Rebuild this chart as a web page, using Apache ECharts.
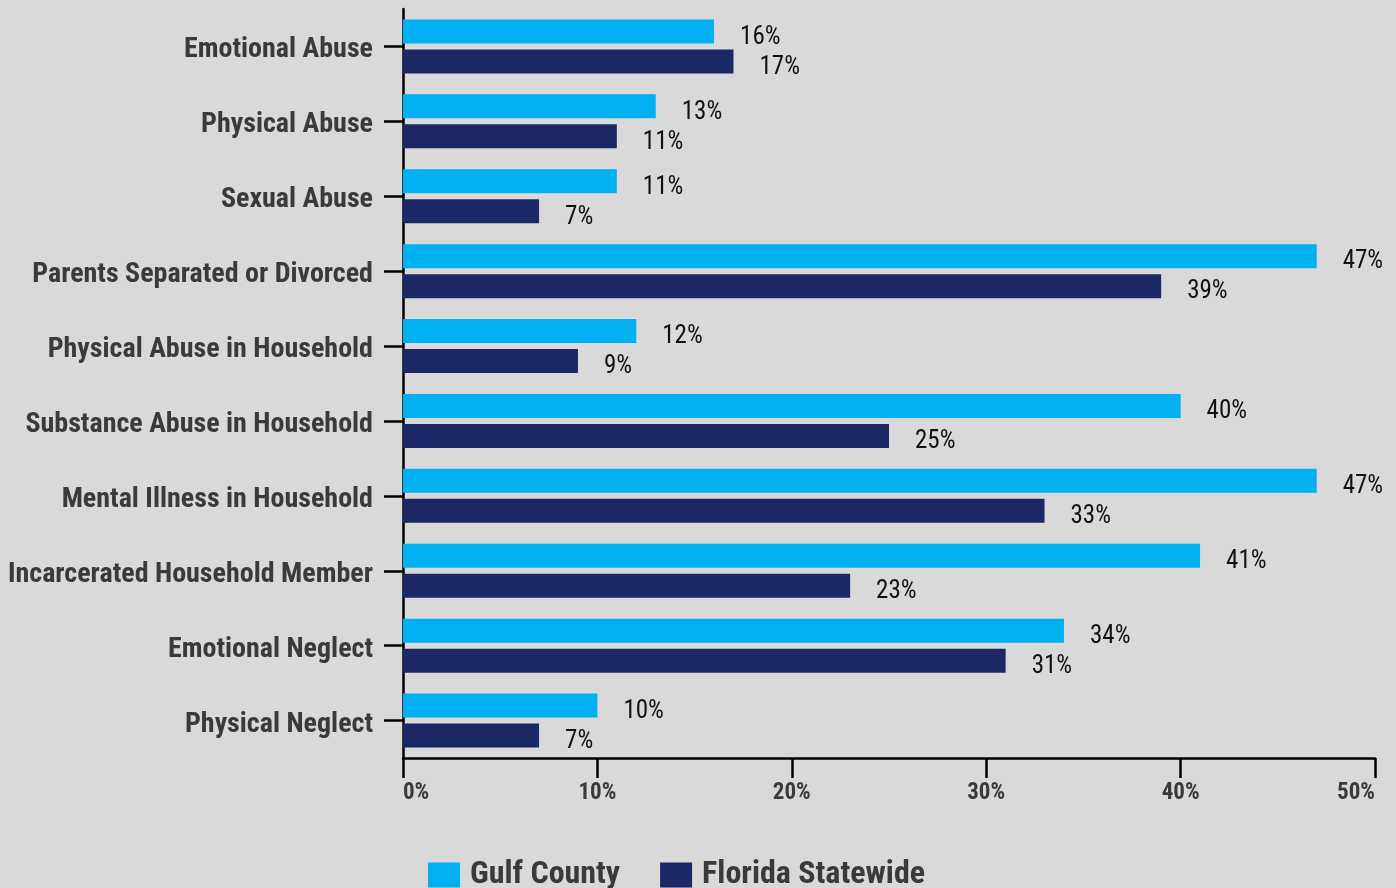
<!DOCTYPE html>
<html>
<head>
<meta charset="utf-8">
<script src="https://cdn.jsdelivr.net/npm/echarts@6/dist/echarts.min.js"></script>
<style>
  html, body { margin: 0; padding: 0; background: #d9d9d9; }
  #chart { width: 1396px; height: 888px; }
</style>
</head>
<body>
<div id="chart"></div>
<script>
// Data
const categories = [
    'Emotional Abuse',
    'Physical Abuse',
    'Sexual Abuse',
    'Parents Separated or Divorced',
    'Physical Abuse in Household',
    'Substance Abuse in Household',
    'Mental Illness in Household',
    'Incarcerated Household Member',
    'Emotional Neglect',
    'Physical Neglect'
];
const gulfCounty = [16, 13, 11, 47, 12, 40, 47, 41, 34, 10];
const floridaStatewide = [17, 11, 7, 39, 9, 25, 33, 23, 31, 7];
const seriesNames = ['Gulf County', 'Florida Statewide'];

const condensed = '"Roboto Condensed", "Liberation Sans Narrow", "DejaVu Sans Condensed", Roboto, sans-serif';

const chart = echarts.init(document.getElementById('chart'));

const valueLabel = {
    show: true,
    position: 'right',
    distance: 26,
    offset: [0, 6],
    formatter: (p) => p.value + '%',
    color: '#111',
    fontFamily: condensed,
    fontSize: 25
};

chart.setOption({
    backgroundColor: '#d9d9d9',
    animation: false,
    grid: { left: 403, right: 21, top: 9, bottom: 130, containLabel: false },
    legend: {
        bottom: -8,
        left: 423,
        icon: 'rect',
        itemWidth: 32,
        itemHeight: 25,
        itemGap: 40,
        textStyle: {
            fontFamily: condensed, fontWeight: 'bold', fontSize: 32, color: '#3a3a3a',
            padding: [0, 0, 0, 5]
        },
        data: seriesNames
    },
    xAxis: {
        type: 'value',
        min: 0,
        max: 50,
        interval: 10,
        axisLine: { show: true, lineStyle: { color: '#000', width: 2.5 } },
        axisTick: { show: true, length: 20, lineStyle: { color: '#000', width: 2.5 } },
        splitLine: { show: false },
        axisLabel: {
            formatter: '{value}%',
            color: '#3a3a3a',
            fontFamily: condensed,
            fontWeight: 'bold',
            fontSize: 23,
            margin: 24,
            alignMinLabel: 'left',
            alignMaxLabel: 'right'
        }
    },
    yAxis: {
        type: 'category',
        inverse: true,
        data: categories,
        axisLine: { show: true, lineStyle: { color: '#000', width: 2.5 } },
        axisTick: { show: true, alignWithLabel: true, length: 19, lineStyle: { color: '#000', width: 2.5 } },
        axisLabel: {
            margin: 30,
            formatter: (v) => '{t|' + v + '}',
            rich: {
                t: {
                    color: '#3a3a3a',
                    fontFamily: condensed,
                    fontWeight: 'bold',
                    fontSize: 28,
                    padding: [8, 0, 0, 0]
                }
            }
        }
    },
    series: [
        {
            name: seriesNames[0],
            type: 'bar',
            data: gulfCounty,
            barWidth: 24,
            barGap: '25%',
            itemStyle: { color: '#00b0f0' },
            label: valueLabel
        },
        {
            name: seriesNames[1],
            type: 'bar',
            data: floridaStatewide,
            barWidth: 24,
            itemStyle: { color: '#1c2865' },
            label: valueLabel
        }
    ]
});
</script>
</body>
</html>
